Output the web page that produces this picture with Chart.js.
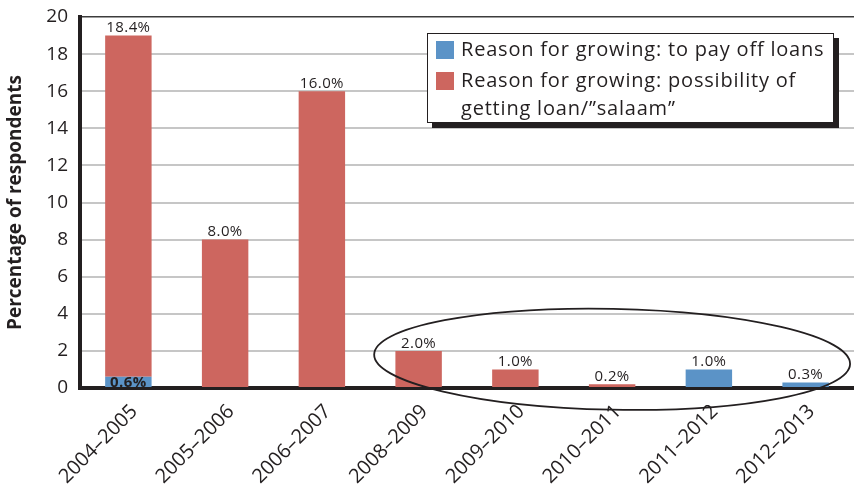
<!DOCTYPE html>
<html>
<head>
<meta charset="utf-8">
<script src="https://cdn.jsdelivr.net/npm/chart.js@4.4.1/dist/chart.umd.min.js"></script>
<style>
  html, body { margin: 0; padding: 0; background: #fff; }
  #wrap { width: 854px; height: 488px; position: relative; }
</style>
</head>
<body>
<div id="wrap"><canvas id="chart"></canvas></div>
<script>
// growing seasons on the x axis
const seasons = ['2004–2005', '2005–2006', '2006–2007', '2008–2009', '2009–2010', '2010–2011', '2011–2012', '2012–2013'];
// percent of respondents per reason (null = no bar)
const payOffLoans = [0.6, null, null, null, null, null, 1.0, 0.3];
const gettingLoan = [18.4, 8.0, 16.0, 2.0, 1.0, 0.2, null, null];
const yTicks = [0, 2, 4, 6, 8, 10, 12, 14, 16, 18, 20];
const legendLines = [
  ['Reason for growing: to pay off loans'],
  ['Reason for growing: possibility of', 'getting loan/”salaam”']
];

const INK = '#231f20';
const BLUE = '#5b93c7';
const RED = '#cd665f';
const FONT = '"Open Sans", "DejaVu Sans", sans-serif';

// percentage labels: above the top segment of each stack, centred inside lower ones
const valueLabels = {
  id: 'valueLabels',
  afterDatasetsDraw(chart) {
    const ctx = chart.ctx;
    const sets = chart.data.datasets;
    ctx.save();
    ctx.fillStyle = INK;
    ctx.textAlign = 'center';
    ctx.letterSpacing = '0.4px';
    seasons.forEach((s, i) => {
      let top = -1;
      sets.forEach((ds, d) => { if (ds.data[i]) top = d; });
      sets.forEach((ds, d) => {
        const v = ds.data[i];
        if (!v) return;
        const el = chart.getDatasetMeta(d).data[i];
        const txt = v.toFixed(1) + '%';
        if (d === top) {
          ctx.font = '15px ' + FONT;
          ctx.textBaseline = 'bottom';
          ctx.fillText(txt, el.x, el.y);
        } else {
          ctx.font = 'bold 15px ' + FONT;
          ctx.textBaseline = 'middle';
          ctx.fillText(txt, el.x, (el.y + el.base) / 2 + 1);
        }
      });
    });
    ctx.restore();
  }
};

// ring around the later seasons
const ellipseNote = {
  id: 'ellipseNote',
  afterDatasetsDraw(chart, args, opts) {
    const xs = chart.scales.x, ys = chart.scales.y;
    const cx = xs.getPixelForValue(opts.center);
    const cy = ys.getPixelForValue(opts.value);
    const step = xs.getPixelForValue(1) - xs.getPixelForValue(0);
    const rx = step * opts.spanCats;
    const ry = Math.abs(ys.getPixelForValue(opts.spanVal) - ys.getPixelForValue(0));
    const ctx = chart.ctx;
    ctx.save();
    ctx.strokeStyle = INK;
    ctx.lineWidth = 1.8;
    ctx.beginPath();
    ctx.ellipse(cx, cy, rx, ry, opts.tilt, 0, Math.PI * 2);
    ctx.stroke();
    ctx.restore();
  }
};

// boxed legend with a drop shadow, lines wrapped by hand
const boxLegend = {
  id: 'boxLegend',
  afterDraw(chart, args, opts) {
    const ctx = chart.ctx;
    const { left, top, width, height, shadow } = opts;
    ctx.save();
    ctx.fillStyle = INK;
    ctx.fillRect(left + shadow, top + shadow, width, height);
    ctx.fillStyle = '#fff';
    ctx.fillRect(left, top, width, height);
    ctx.strokeStyle = INK;
    ctx.lineWidth = 1;
    ctx.strokeRect(left + 0.5, top + 0.5, width - 1, height - 1);
    ctx.font = '20px ' + FONT;
    ctx.letterSpacing = '0.8px';
    ctx.textBaseline = 'alphabetic';
    ctx.textAlign = 'left';
    let y = top + 23;
    chart.data.datasets.forEach((ds, d) => {
      ctx.fillStyle = ds.backgroundColor;
      ctx.fillRect(left + 9, y - 15, 18, 18);
      ctx.fillStyle = INK;
      legendLines[d].forEach(line => {
        ctx.fillText(line, left + 34, y);
        y += 28;
      });
      y += 3;
    });
    ctx.restore();
  }
};

new Chart(document.getElementById('chart'), {
  type: 'bar',
  data: {
    labels: seasons,
    datasets: [
      { label: legendLines[0].join(' '), data: payOffLoans, backgroundColor: BLUE },
      { label: legendLines[1].join(' '), data: gettingLoan, backgroundColor: RED }
    ]
  },
  options: {
    responsive: true,
    maintainAspectRatio: false,
    animation: false,
    layout: { padding: { top: 17, left: 0, right: 0, bottom: 0 } },
    datasets: { bar: { categoryPercentage: 1, barPercentage: 0.48 } },
    plugins: {
      legend: { display: false },
      tooltip: { enabled: false },
      ellipseNote: { center: 5, value: 1.55, spanCats: 2.46, spanVal: 2.72, tilt: 0.02 },
      boxLegend: { left: 427, top: 33, width: 407, height: 90, shadow: 5 }
    },
    scales: {
      x: {
        stacked: true,
        grid: { display: false, drawTicks: false },
        border: { color: INK, width: 4 },
        ticks: {
          color: INK,
          font: { family: FONT, size: 20 },
          maxRotation: 45,
          minRotation: 45,
          padding: 12,
          labelOffset: 6
        },
        afterFit(scale) { scale.height = 100; }
      },
      y: {
        stacked: true,
        min: 0,
        max: 20,
        afterBuildTicks(scale) { scale.ticks = yTicks.map(v => ({ value: v })); },
        grid: {
          drawTicks: true,
          tickLength: 12,
          tickColor: 'rgba(0,0,0,0)',
          color: c => c.tick && c.tick.value === 20 ? '#3c3c3c' : '#c6c6c6',
          lineWidth: c => c.tick && c.tick.value === 20 ? 1.5 : 2
        },
        border: { color: INK, width: 4 },
        ticks: {
          color: INK,
          font: { family: FONT, size: 19 },
          padding: 0
        },
        title: {
          display: true,
          text: 'Percentage of respondents',
          color: INK,
          font: { family: FONT, size: 19, weight: 'bold' },
          padding: { top: 4, bottom: 0 }
        },
        afterFit(scale) { scale.width = 80; }
      }
    }
  },
  plugins: [valueLabels, ellipseNote, boxLegend]
});
</script>
</body>
</html>
